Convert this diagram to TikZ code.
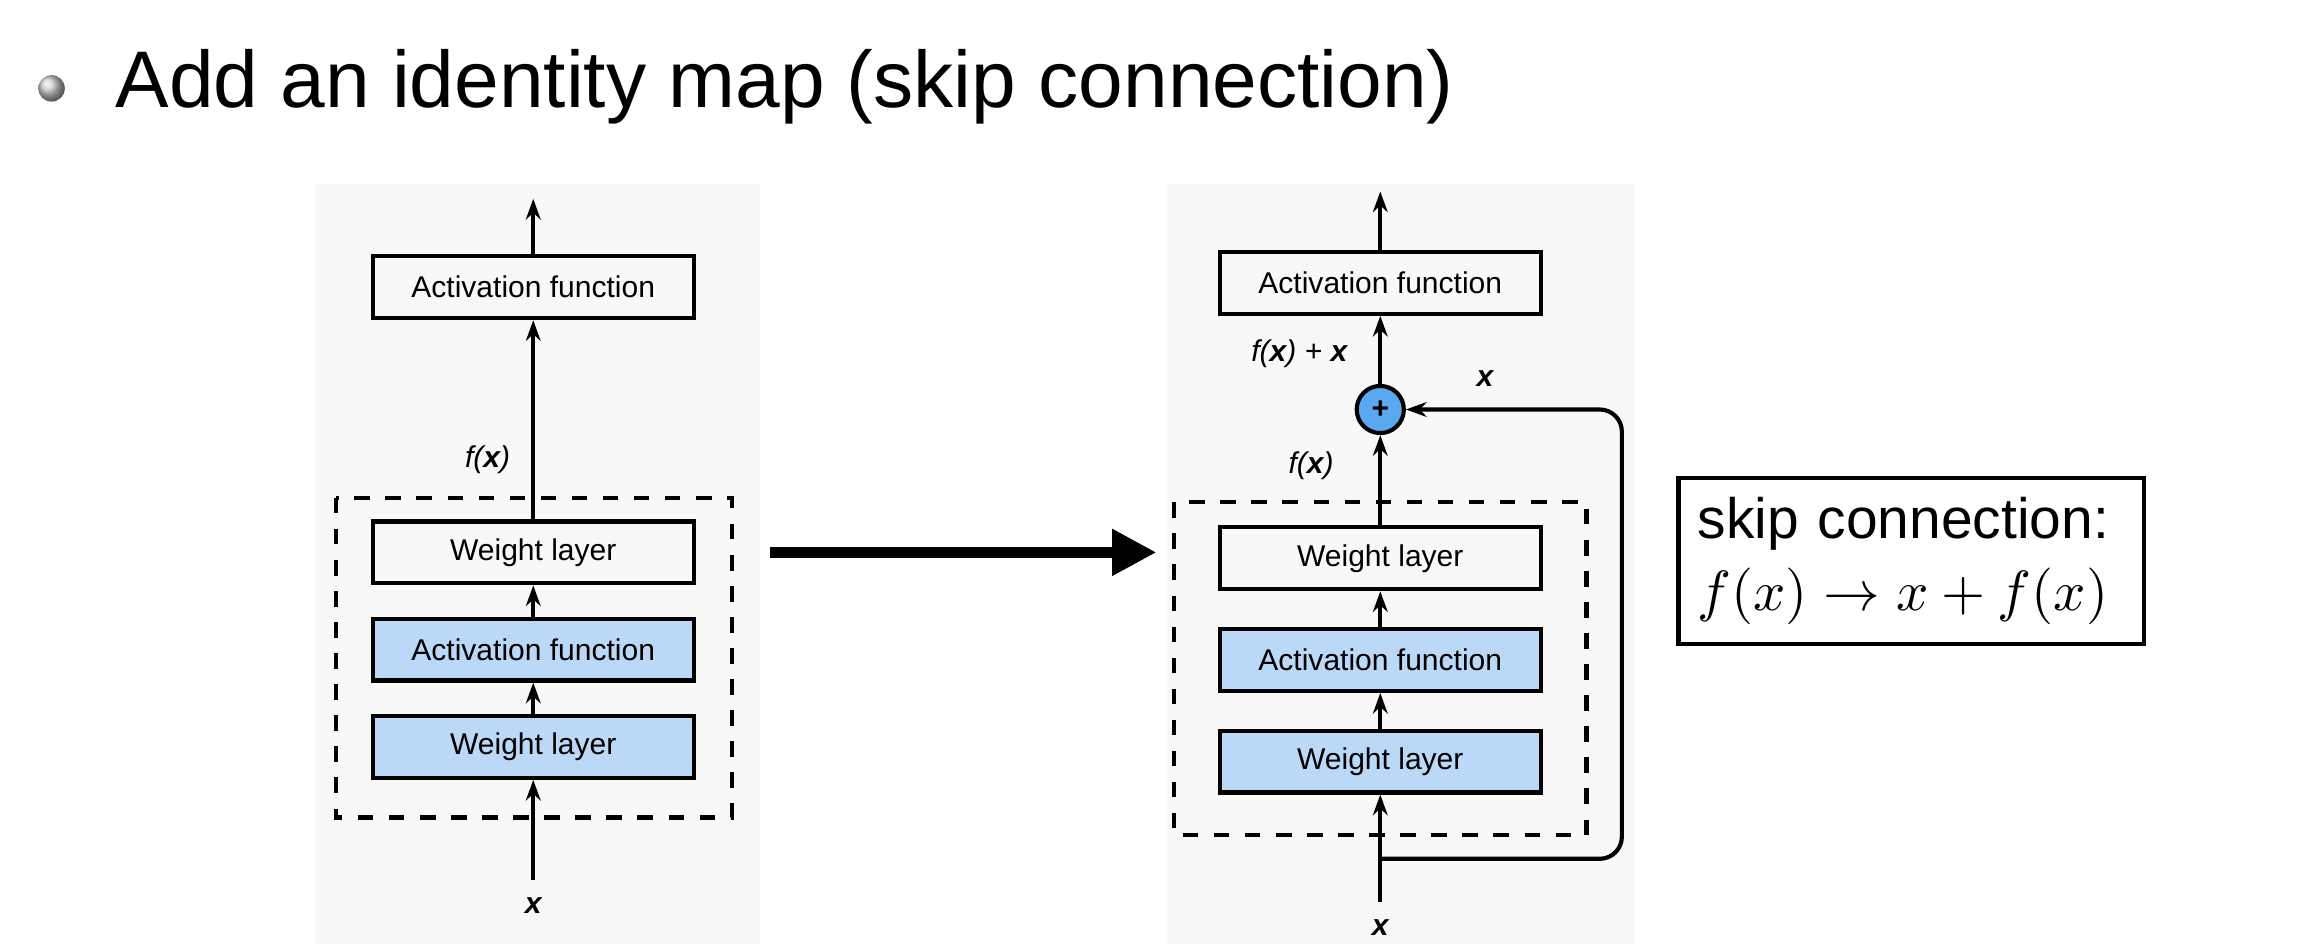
\documentclass[tikz,border=0pt]{standalone}
\usepackage{fontspec}
\setmainfont{Liberation Sans}
\usetikzlibrary{positioning,arrows.meta,shadings}
\definecolor{layerblue}{HTML}{BBD8F7}
\definecolor{plusblue}{HTML}{5AA9F0}
\definecolor{panelgray}{HTML}{F8F8F8}
\begin{document}
\begin{tikzpicture}
[x=0.1mm,y=-0.1mm,
 every node/.style={font=\fontsize{5.8}{7}\selectfont},
 layer/.style={draw=black,thick,rectangle,minimum width=21.8mm,minimum height=4.2mm,inner sep=0mm},
 blue/.style={layer,fill=layerblue},
 lbl/.style={font=\fontsize{5.8}{7}\selectfont\itshape},
 flow/.style={-{Stealth[length=1.4mm,width=1mm]},thick}]
\useasboundingbox (0,0) rectangle (1560,641);
% title
\shade[ball color=gray!40] (35,60) circle (9);
\node[anchor=base west,font=\fontsize{15.5}{18}\selectfont] (title) at (66,73) {Add an identity map (skip connection)};
% left panel
\fill[panelgray] (214,125) rectangle (516,641);
\draw[thick,dashed] (228,338) rectangle (497,555);
\node[layer] (LA)  at (362,195) {Activation function};
\node[layer] (LW2) at (362,375) {Weight layer};
\node[blue]  (LF)  at (362,441) {Activation function};
\node[blue]  (LW1) at (362,507) {Weight layer};
\node[lbl]   (Lx)  at (362,615) {\textbf{\textit{x}}};
\node[lbl]   (Lf)  at (331,312) {f(\textbf{\textit{x}})};
\coordinate (Ltop) at (362,135);
\draw[flow] (Lx) -- (LW1);
\draw[flow] (LW1) -- (LF);
\draw[flow] (LF) -- (LW2);
\draw[flow] (LW2) -- (LA);
\draw[flow] (LA) -- (Ltop);
% big arrow
\coordinate (Bs) at (523,375);
\coordinate (Be) at (785,375);
\draw[line width=1.6mm-0.9mm,-{Triangle[length=3mm,width=3mm]}] (Bs) -- (Be);
% right panel
\fill[panelgray] (792,125) rectangle (1110,641);
\draw[thick,dashed] (797,341) rectangle (1077,567);
\node[layer] (RA)  at (937,192) {Activation function};
\node[draw=black,thick,circle,fill=plusblue,minimum size=3.2mm,inner sep=0mm] (plus) at (937,278) {\textbf{+}};
\node[layer] (RW2) at (937,379) {Weight layer};
\node[blue]  (RF)  at (937,448) {Activation function};
\node[blue]  (RW1) at (937,517) {Weight layer};
\node[lbl]   (Rx)  at (937,630) {\textbf{\textit{x}}};
\node[lbl]   (Rf)  at (890,316) {f(\textbf{\textit{x}})};
\node[lbl]   (Rfx) at (882,240) {f(\textbf{\textit{x}}) + \textbf{\textit{x}}};
\node[lbl]   (Rsx) at (1008,257) {\textbf{\textit{x}}};
\coordinate (Rtop) at (937,130);
\coordinate (Rsplit) at (937,583);
\coordinate (Rcorner) at (1101,583);
\draw[flow] (Rx) -- (RW1);
\draw[flow] (RW1) -- (RF);
\draw[flow] (RF) -- (RW2);
\draw[flow] (RW2) -- (plus);
\draw[flow] (plus) -- (RA);
\draw[flow] (RA) -- (Rtop);
\draw[flow,rounded corners=1.5mm] (Rsplit) -- (Rcorner) |- (plus);
% note
\node[draw=black,thick,align=left,anchor=north west,text width=29mm,minimum height=10.7mm,inner sep=1.3mm,
      font=\fontsize{11}{14}\selectfont] (note) at (1138,323)
  {skip connection:\\ $f(x)\rightarrow x+f(x)$};
\end{tikzpicture}
\end{document}
